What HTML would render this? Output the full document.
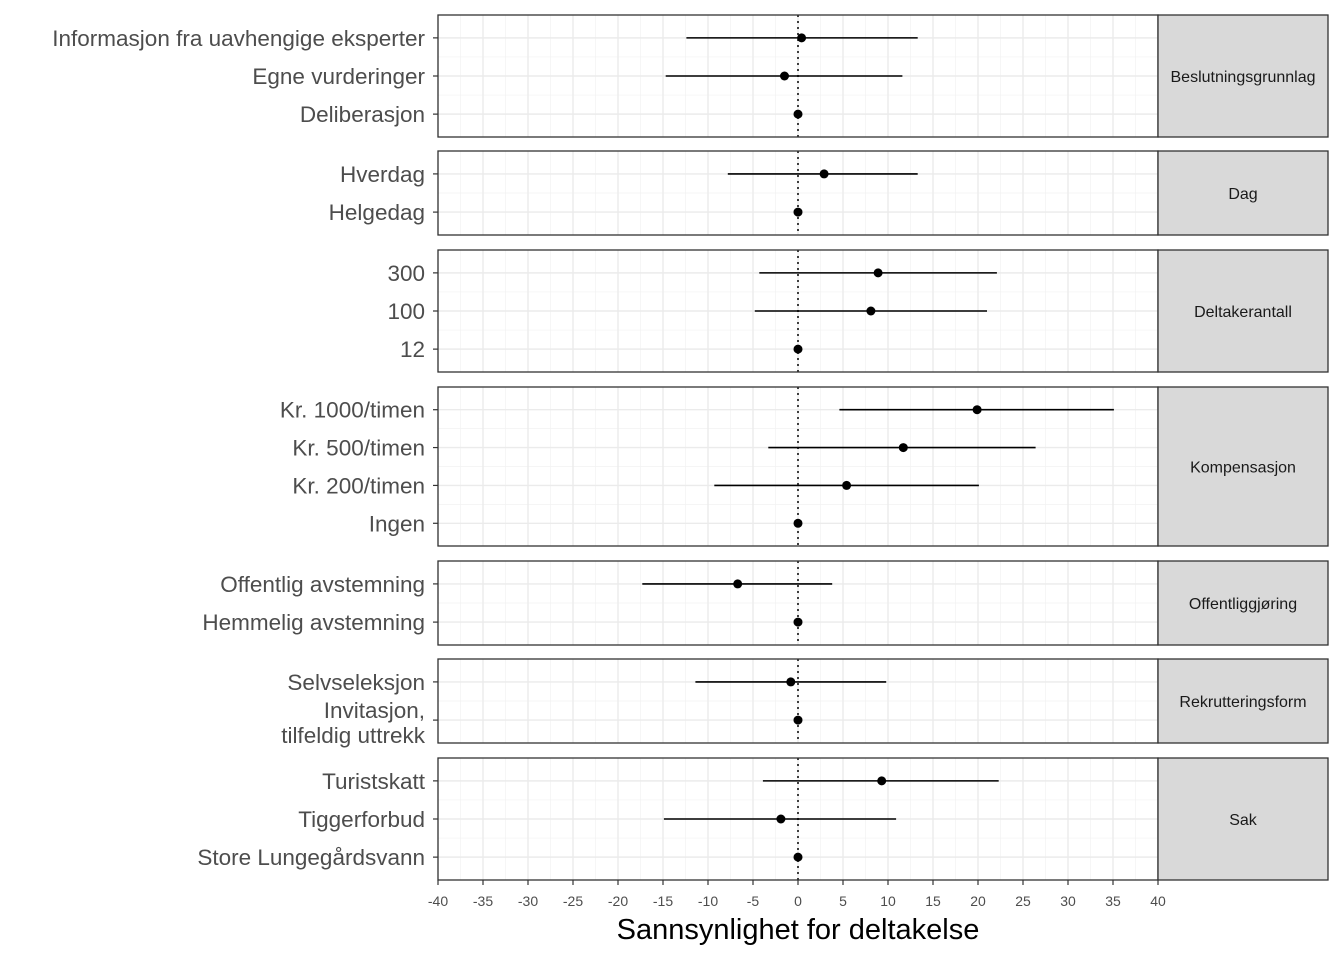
<!DOCTYPE html>
<html><head><meta charset="utf-8"><style>
body{margin:0;background:#fff;}
svg{display:block;font-family:"Liberation Sans",sans-serif;}
</style></head><body>
<svg id="chart" width="1344" height="960"></svg>
<script>
const panelNames=["Beslutningsgrunnlag","Dag","Deltakerantall","Kompensasjon","Offentliggjøring","Rekrutteringsform","Sak"];
const panelLabels=[["Informasjon fra uavhengige eksperter","Egne vurderinger","Deliberasjon"],["Hverdag","Helgedag"],["300","100","12"],["Kr. 1000/timen","Kr. 500/timen","Kr. 200/timen","Ingen"],["Offentlig avstemning","Hemmelig avstemning"],["Selvseleksjon","Invitasjon,\ntilfeldig uttrekk"],["Turistskatt","Tiggerforbud","Store Lungegårdsvann"]];
const estimates=[[0.4,-1.5,0],[2.9,0],[8.9,8.1,0],[19.9,11.7,5.4,0],[-6.7,0],[-0.8,0],[9.3,-1.9,0]];
const lowers=[[-12.4,-14.7,0],[-7.8,0],[-4.3,-4.8,0],[4.6,-3.3,-9.3,0],[-17.3,0],[-11.4,0],[-3.9,-14.9,0]];
const uppers=[[13.3,11.6,0],[13.3,0],[22.1,21.0,0],[35.1,26.4,20.1,0],[3.8,0],[9.8,0],[22.3,10.9,0]];
const xTicks=[-40,-35,-30,-25,-20,-15,-10,-5,0,5,10,15,20,25,30,35,40];
const panelTops=[15,151,250,387,561,659,758], panelBottoms=[137,235,372,546,645,743,880];
const X0=438,X1=1158,S1=1328;
const xs=v=>X0+(v+40)/80*(X1-X0);
const svg=document.getElementById('chart');
const NS="http://www.w3.org/2000/svg";
function mk(t,a,p){const e=document.createElementNS(NS,t);for(const k in a)e.setAttribute(k,a[k]);(p||svg).appendChild(e);return e;}
panelNames.forEach((pn,i)=>{
  const top=panelTops[i],bot=panelBottoms[i],n=panelLabels[i].length;
  const step=(bot-top)/(n+0.2);
  const ys=j=>top+step*(j+0.6);
  const g=mk('g',{});
  
  
  for(let v=-37.5;v<40;v+=5)mk('line',{x1:xs(v),x2:xs(v),y1:top,y2:bot,stroke:'#f2f2f2','stroke-width':0.7},g);
  for(let j=0;j<n-1;j++)mk('line',{x1:X0,x2:X1,y1:(ys(j)+ys(j+1))/2,y2:(ys(j)+ys(j+1))/2,stroke:'#f2f2f2','stroke-width':0.7},g);
  xTicks.forEach(v=>mk('line',{x1:xs(v),x2:xs(v),y1:top,y2:bot,stroke:'#ebebeb','stroke-width':1.4},g));
  for(let j=0;j<n;j++)mk('line',{x1:X0,x2:X1,y1:ys(j),y2:ys(j),stroke:'#ebebeb','stroke-width':1.4},g);
  mk('line',{x1:xs(0),x2:xs(0),y1:top,y2:bot,stroke:'#000','stroke-width':1.5,'stroke-dasharray':'2,4'},g);
  for(let j=0;j<n;j++){
    const y=ys(j);
    const el=mk('line',{x1:xs(lowers[i][j]),x2:xs(uppers[i][j]),y1:y,y2:y,stroke:'#000','stroke-width':1.6},g);
    
    
    const c=mk('circle',{cx:xs(estimates[i][j]),cy:y,r:4.5,fill:'#000'},g);
    
    
    mk('line',{x1:X0-5,x2:X0,y1:y,y2:y,stroke:'#333','stroke-width':1.2},g);
    const lines=panelLabels[i][j].split('\n');
    lines.forEach((ln,k)=>{
      const t=mk('text',{x:X0-13,y:y+8+(k-(lines.length-1))*25+(lines.length>1?15:0),'text-anchor':'end','font-size':22.5,fill:'#4d4d4d'},g);
      t.textContent=ln;
      
      
    });
  }
  mk('rect',{x:X0,y:top,width:X1-X0,height:bot-top,fill:'none',stroke:'#333','stroke-width':1.3},g);
  mk('rect',{x:X1,y:top,width:S1-X1,height:bot-top,fill:'#d9d9d9',stroke:'#333','stroke-width':1.3},g);
  const st=mk('text',{x:(X1+S1)/2,y:(top+bot)/2+6,'text-anchor':'middle','font-size':16,fill:'#1a1a1a'},g);
  st.textContent=pn;
  
  
});
xTicks.forEach(v=>{
  mk('line',{x1:xs(v),x2:xs(v),y1:880,y2:885,stroke:'#333','stroke-width':1.2});
  const t=mk('text',{x:xs(v),y:906,'text-anchor':'middle','font-size':14,fill:'#4d4d4d'});
  t.textContent=v;
  
  
});
const xt=mk('text',{x:798,y:939,'text-anchor':'middle','font-size':29,fill:'#000'});
xt.textContent='Sannsynlighet for deltakelse';


</script>
</body></html>
